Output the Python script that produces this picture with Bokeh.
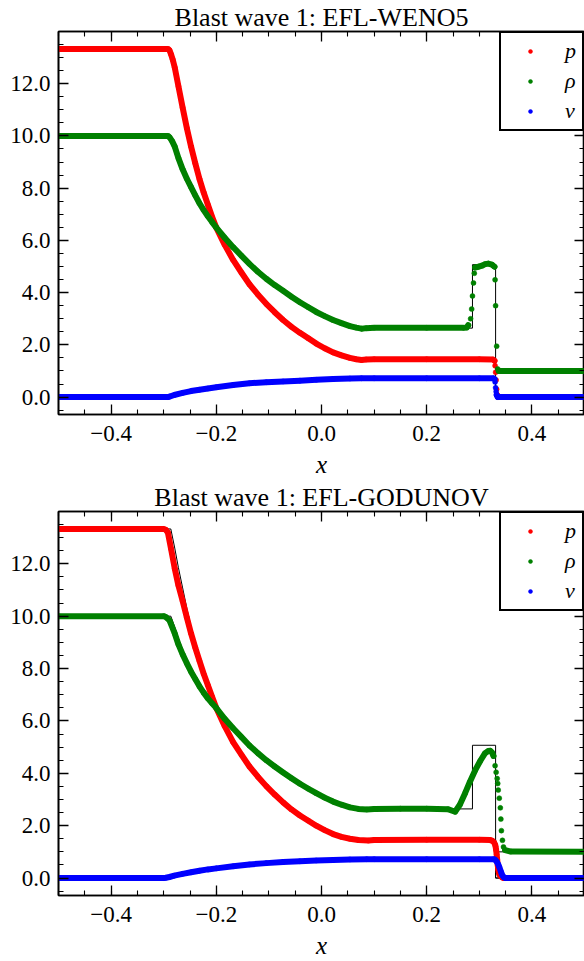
from bokeh.plotting import figure
from bokeh.models import (Range1d, LinearAxis, FixedTicker, CustomJSTickFormatter,
                          Legend, LegendItem)
from bokeh.core.properties import value
from bokeh.layouts import column
from bokeh.embed import file_html
from bokeh.resources import INLINE

# ---------------- ticks ----------------
X_MAJOR = [-0.4, -0.2, 0.0, 0.2, 0.4]
X_MINOR = [-0.5, -0.45, -0.4, -0.35, -0.3, -0.25, -0.2, -0.15, -0.1, -0.05, 0.0,
           0.05, 0.1, 0.15, 0.2, 0.25, 0.3, 0.35, 0.4, 0.45, 0.5]
Y_MAJOR = [0.0, 2.0, 4.0, 6.0, 8.0, 10.0, 12.0]
Y_MINOR = [-0.5, 0.0, 0.5, 1.0, 1.5, 2.0, 2.5, 3.0, 3.5, 4.0, 4.5, 5.0, 5.5, 6.0, 6.5,
           7.0, 7.5, 8.0, 8.5, 9.0, 9.5, 10.0, 10.5, 11.0, 11.5, 12.0, 12.5, 13.0, 13.5]
Y_LO, Y_HI = -0.6665, 13.9965

TITLES = ["Blast wave 1: EFL-WENO5", "Blast wave 1: EFL-GODUNOV"]
LABELS = ["p", "\u03c1", "v"]
COLORS = ["#ff0000", "#008000", "#0000ff"]

# ---------------- exact solution (black line) ----------------
ex_p_x = [-0.5, -0.2865, -0.279, -0.272, -0.264, -0.256, -0.248, -0.232, -0.216, -0.2,
          -0.184, -0.168, -0.137, -0.105, -0.073, -0.041, -0.010, 0.022, 0.054, 0.08,
          0.331, 0.331, 0.5]
ex_p_y = [13.33, 13.33, 12.60, 11.85, 11.08, 10.30, 9.59, 8.35, 7.36, 6.49,
          5.83, 5.25, 4.32, 3.57, 2.95, 2.46, 2.05, 1.71, 1.51, 1.45,
          1.45, 0.0, 0.0]
ex_rho_x = [-0.5, -0.2865, -0.279, -0.272, -0.264, -0.256, -0.248, -0.232, -0.216, -0.2,
            -0.184, -0.168, -0.137, -0.105, -0.073, -0.041, -0.010, 0.022, 0.054, 0.08,
            0.287, 0.287, 0.331, 0.331, 0.5]
ex_rho_y = [10.0, 10.0, 9.59, 9.15, 8.72, 8.36, 8.04, 7.42, 6.92, 6.49,
            6.10, 5.74, 5.10, 4.53, 4.07, 3.63, 3.26, 2.95, 2.72, 2.64,
            2.64, 5.07, 5.07, 1.0, 1.0]
ex_v_x = [-0.5, -0.2865, -0.28, -0.264, -0.248, -0.232, -0.216, -0.2, -0.168, -0.137,
          -0.105, -0.073, -0.041, -0.010, 0.022, 0.054, 0.08, 0.331, 0.331, 0.5]
ex_v_y = [0.0, 0.0, 0.06, 0.16, 0.23, 0.28, 0.33, 0.38, 0.46, 0.53,
          0.57, 0.60, 0.63, 0.66, 0.69, 0.71, 0.72, 0.72, 0.0, 0.0]

# ---------------- EFL-WENO5 ----------------
w_p_x = [-0.5, -0.292, -0.289, -0.286, -0.283, -0.279, -0.272, -0.264, -0.256, -0.248,
         -0.240, -0.232, -0.224, -0.216, -0.208, -0.200, -0.184, -0.168, -0.152, -0.137,
         -0.121, -0.105, -0.089, -0.073, -0.057, -0.041, -0.025, -0.010, 0.006, 0.022,
         0.038, 0.054, 0.066, 0.076, 0.085, 0.100, 0.200, 0.300, 0.326, 0.329,
         0.330, 0.331, 0.332, 0.333, 0.334, 0.336, 0.5]
w_p_y = [13.33, 13.33, 13.28, 13.12, 12.93, 12.62, 11.9, 11.08, 10.3, 9.59,
         8.95, 8.35, 7.83, 7.36, 6.9, 6.49, 5.83, 5.25, 4.76, 4.32,
         3.93, 3.57, 3.25, 2.95, 2.69, 2.46, 2.25, 2.05, 1.87, 1.71,
         1.60, 1.50, 1.45, 1.42, 1.44, 1.45, 1.45, 1.45, 1.44, 1.39,
         1.20, 0.95, 0.65, 0.30, 0.08, 0.0, 0.0]
w_p_dots = [0.330, 0.331, 0.332, 0.333]

w_rho_x = [-0.5, -0.292, -0.289, -0.284, -0.279, -0.272, -0.264, -0.256, -0.248, -0.240,
           -0.232, -0.224, -0.216, -0.208, -0.200, -0.184, -0.168, -0.152, -0.137, -0.121,
           -0.105, -0.089, -0.073, -0.057, -0.041, -0.025, -0.010, 0.006, 0.022, 0.038,
           0.054, 0.066, 0.076, 0.085, 0.100, 0.200, 0.270, 0.276, 0.279, 0.2835,
           0.2855, 0.287, 0.289, 0.2905, 0.292, 0.298, 0.305, 0.311, 0.317, 0.324,
           0.329, 0.330, 0.331, 0.333, 0.335, 0.337, 0.5]
w_rho_y = [10.0, 10.0, 9.95, 9.8, 9.59, 9.15, 8.72, 8.36, 8.04, 7.72,
           7.42, 7.16, 6.92, 6.7, 6.49, 6.1, 5.74, 5.41, 5.10, 4.8,
           4.53, 4.29, 4.07, 3.84, 3.63, 3.44, 3.26, 3.10, 2.95, 2.83,
           2.72, 2.66, 2.62, 2.64, 2.65, 2.65, 2.65, 2.66, 2.75, 3.0,
           3.37, 3.87, 4.37, 4.74, 4.96, 4.99, 5.03, 5.09, 5.11, 5.07,
           4.99, 4.49, 3.50, 1.95, 1.08, 1.0, 1.0]
w_rho_dots = [0.2835, 0.2855, 0.287, 0.289, 0.2905, 0.330, 0.331, 0.333, 0.335]

w_v_x = [-0.5, -0.292, -0.289, -0.280, -0.264, -0.248, -0.232, -0.216, -0.200, -0.168,
         -0.137, -0.105, -0.073, -0.041, -0.010, 0.022, 0.054, 0.076, 0.100, 0.200,
         0.300, 0.327, 0.329, 0.330, 0.331, 0.332, 0.333, 0.335, 0.5]
w_v_y = [0.0, 0.0, 0.02, 0.08, 0.16, 0.23, 0.28, 0.33, 0.38, 0.46,
         0.53, 0.57, 0.60, 0.63, 0.66, 0.69, 0.71, 0.72, 0.72, 0.72,
         0.72, 0.72, 0.69, 0.58, 0.36, 0.21, 0.08, 0.0, 0.0]
w_v_dots = [0.330, 0.331, 0.332]

# ---------------- EFL-GODUNOV ----------------
g_p_x = [-0.5, -0.300, -0.296, -0.292, -0.286, -0.279, -0.272, -0.264, -0.256, -0.248,
         -0.240, -0.232, -0.224, -0.216, -0.208, -0.200, -0.184, -0.168, -0.152, -0.137,
         -0.121, -0.105, -0.089, -0.073, -0.057, -0.041, -0.025, -0.010, 0.006, 0.022,
         0.038, 0.054, 0.070, 0.089, 0.100, 0.200, 0.300, 0.321, 0.325, 0.328,
         0.330, 0.331, 0.332, 0.333, 0.334, 0.335, 0.336, 0.337, 0.338, 0.340,
         0.343, 0.346, 0.5]
g_p_y = [13.33, 13.33, 13.30, 13.19, 12.57, 11.82, 11.17, 10.58, 9.95, 9.34,
         8.8, 8.29, 7.8, 7.36, 6.92, 6.49, 5.8, 5.19, 4.7, 4.26,
         3.87, 3.51, 3.19, 2.89, 2.62, 2.39, 2.19, 2.00, 1.83, 1.68,
         1.57, 1.50, 1.45, 1.43, 1.45, 1.46, 1.46, 1.45, 1.42, 1.36,
         1.28, 1.20, 1.07, 0.90, 0.70, 0.50, 0.32, 0.22, 0.15, 0.08,
         0.03, 0.0, 0.0]
g_p_dots = []

g_rho_x = [-0.5, -0.300, -0.296, -0.289, -0.279, -0.272, -0.264, -0.256, -0.248, -0.240,
           -0.232, -0.224, -0.216, -0.208, -0.200, -0.184, -0.168, -0.152, -0.137, -0.121,
           -0.105, -0.089, -0.073, -0.057, -0.041, -0.025, -0.010, 0.006, 0.022, 0.038,
           0.054, 0.070, 0.086, 0.100, 0.150, 0.200, 0.240, 0.254, 0.263, 0.273,
           0.282, 0.292, 0.302, 0.311, 0.317, 0.321, 0.324, 0.327, 0.330, 0.332,
           0.334, 0.335, 0.336, 0.338, 0.340, 0.341, 0.342, 0.344, 0.346, 0.349,
           0.360, 0.5]
g_rho_y = [10.0, 10.0, 9.97, 9.84, 9.34, 8.92, 8.54, 8.2, 7.88, 7.6,
           7.32, 7.08, 6.86, 6.67, 6.49, 6.08, 5.72, 5.38, 5.06, 4.77,
           4.50, 4.26, 4.03, 3.81, 3.60, 3.41, 3.24, 3.07, 2.92, 2.80,
           2.70, 2.64, 2.62, 2.64, 2.65, 2.65, 2.63, 2.53, 2.80, 3.24,
           3.67, 4.11, 4.48, 4.77, 4.85, 4.86, 4.80, 4.66, 4.29, 4.04,
           3.80, 3.61, 3.36, 3.05, 2.68, 2.25, 1.81, 1.44, 1.19, 1.07,
           1.01, 1.0]
g_rho_dots = [0.330, 0.332, 0.334, 0.335, 0.336, 0.338, 0.340, 0.341, 0.342, 0.344, 0.346]

g_v_x = [-0.5, -0.300, -0.296, -0.289, -0.280, -0.264, -0.248, -0.232, -0.216, -0.200,
         -0.168, -0.137, -0.105, -0.073, -0.041, -0.010, 0.022, 0.054, 0.086, 0.100,
         0.200, 0.300, 0.327, 0.330, 0.333, 0.336, 0.338, 0.341, 0.343, 0.345,
         0.347, 0.350, 0.5]
g_v_y = [0.0, 0.0, 0.01, 0.04, 0.09, 0.16, 0.22, 0.28, 0.33, 0.37,
         0.45, 0.52, 0.57, 0.61, 0.64, 0.67, 0.69, 0.71, 0.72, 0.72,
         0.72, 0.72, 0.72, 0.70, 0.63, 0.52, 0.42, 0.25, 0.14, 0.07,
         0.02, 0.0, 0.0]
g_v_dots = []

SERIES = [
    [(w_p_x, w_p_y, w_p_dots), (w_rho_x, w_rho_y, w_rho_dots), (w_v_x, w_v_y, w_v_dots)],
    [(g_p_x, g_p_y, g_p_dots), (g_rho_x, g_rho_y, g_rho_dots), (g_v_x, g_v_y, g_v_dots)],
]
EXACT = [(ex_p_x, ex_p_y), (ex_rho_x, ex_rho_y), (ex_v_x, ex_v_y)]

FONT = "Liberation Serif"
TICK_FS = "23px"


def split_runs(xs, ys, dots):
    """Connected runs of band points (isolated dots break the band)."""
    sx, sy, cx, cy = [], [], [], []
    for x, y in zip(xs, ys):
        if x in dots:
            if len(cx) > 1:
                sx.append(cx); sy.append(cy)
            cx, cy = [], []
        else:
            cx.append(x); cy.append(y)
    if len(cx) > 1:
        sx.append(cx); sy.append(cy)
    return sx, sy


def style_axis(ax, show_labels):
    ax.axis_line_color = "black"
    ax.axis_line_width = 1.6
    ax.major_tick_line_color = "black"
    ax.minor_tick_line_color = "black"
    ax.major_tick_line_width = 1.3
    ax.minor_tick_line_width = 1.1
    ax.major_tick_in = 10
    ax.major_tick_out = 0
    ax.minor_tick_in = 5
    ax.minor_tick_out = 0
    if show_labels:
        ax.major_label_text_font = FONT
        ax.major_label_text_font_size = TICK_FS
        ax.major_label_text_color = "black"
    else:
        ax.major_label_text_font_size = "0px"
        ax.major_label_standoff = 0


num_fmt = "return (tick < 0 ? '\u2212' : '') + Math.abs(tick).toFixed(1);"


def make_plot(idx, height, bottom_border):
    p = figure(width=584, height=height,
               x_range=Range1d(-0.5, 0.5), y_range=Range1d(Y_LO, Y_HI),
               x_axis_type=None, y_axis_type=None,
               output_backend="svg", toolbar_location=None,
               min_border_left=58, min_border_right=0,
               min_border_top=0, min_border_bottom=bottom_border)
    p.outline_line_color = "black"
    p.outline_line_width = 1.6
    p.background_fill_color = "white"
    p.border_fill_color = "white"

    p.title.text = TITLES[idx]
    p.title.align = "center"
    p.title.text_font = FONT
    p.title.text_font_size = "26px"
    p.title.text_font_style = "normal"
    p.title.text_color = "black"
    p.title.standoff = 0

    xt = FixedTicker(ticks=X_MAJOR, minor_ticks=X_MINOR)
    yt = FixedTicker(ticks=Y_MAJOR, minor_ticks=Y_MINOR)

    xb = LinearAxis(ticker=xt, formatter=CustomJSTickFormatter(code=num_fmt),
                    axis_label="x")
    style_axis(xb, True)
    xb.major_label_standoff = 11
    xb.axis_label_standoff = 7
    xb.axis_label_text_font = FONT
    xb.axis_label_text_font_style = "italic"
    xb.axis_label_text_font_size = "25px"
    xb.axis_label_text_color = "black"
    p.add_layout(xb, "below")

    yl = LinearAxis(ticker=yt, formatter=CustomJSTickFormatter(code=num_fmt))
    style_axis(yl, True)
    yl.major_label_standoff = 8
    p.add_layout(yl, "left")

    xa = LinearAxis(ticker=xt, formatter=CustomJSTickFormatter(code="return '';"))
    style_axis(xa, False)
    p.add_layout(xa, "above")
    yr = LinearAxis(ticker=yt, formatter=CustomJSTickFormatter(code="return '';"))
    style_axis(yr, False)
    p.add_layout(yr, "right")

    # exact solution underneath
    for ex, ey in EXACT:
        p.line(ex, ey, line_color="black", line_width=1.0)

    items = []
    for (xs, ys, dots), col, lab in zip(SERIES[idx], COLORS, LABELS):
        sx, sy = split_runs(xs, ys, dots)
        p.multi_line(sx, sy, line_color=col, line_width=6,
                     line_cap="round", line_join="round")
        r = p.scatter(xs, ys, size=5, fill_color=col, line_color=col, line_width=0.5)
        items.append(LegendItem(label=value(lab), renderers=[r]))

    leg = Legend(items=items, location="top_right", margin=0, padding=5,
                 spacing=4, glyph_width=48, glyph_height=10, label_height=20,
                 label_width=12, label_standoff=11,
                 border_line_color="black", border_line_width=2, border_line_alpha=1.0,
                 background_fill_color="white", background_fill_alpha=1.0,
                 label_text_font=FONT, label_text_font_style="italic",
                 label_text_font_size="22px", label_text_color="black")
    p.add_layout(leg)
    return p


p1 = make_plot(0, 480, 60)
p2 = make_plot(1, 481, 59)
layout = column(p1, p2, spacing=0)

open("out.html", "w").write(file_html(layout, INLINE))
